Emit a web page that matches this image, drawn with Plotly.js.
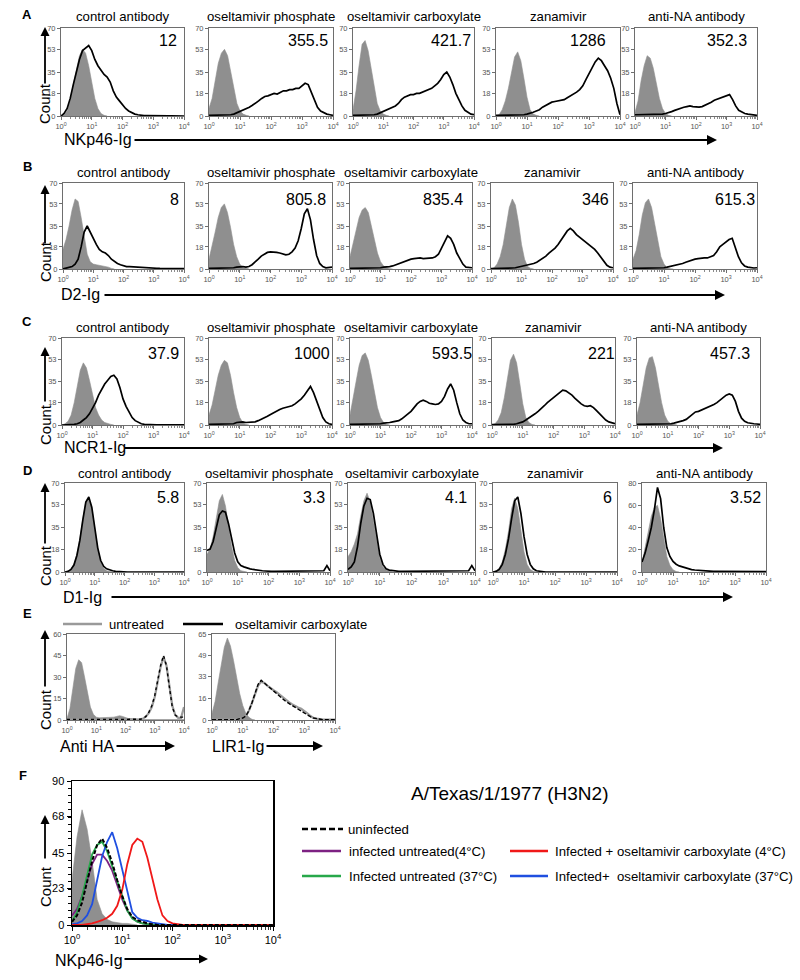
<!DOCTYPE html>
<html><head><meta charset="utf-8">
<script src="https://cdn.plot.ly/plotly-3.0.1.min.js"></script>
<style>html,body{margin:0;padding:0;background:#fff;}#chart{width:800px;height:980px;}</style>
</head><body><div id="chart"></div>
<script>
// ---------- DATA ----------
// histogram bin centres, as log10 of fluorescence
const binExp = [0,0.1,0.2,0.3,0.4,0.5,0.6,0.7,0.8,0.9,1.0,1.1,1.2,1.3,1.4,1.5,1.6,1.7,1.8,1.9,2.0,2.1,2.2,2.3,2.4,2.5,2.6,2.7,2.8,2.9,3.0,3.1,3.2,3.3,3.4,3.5,3.6,3.7,3.8,3.9,4.0];
const decadeVals = [1,10,100,1000,10000];
const decadeText = ['10<sup>0</sup>','10<sup>1</sup>','10<sup>2</sup>','10<sup>3</sup>','10<sup>4</sup>'];
const treatments = ['control antibody','oseltamivir phosphate','oseltamivir carboxylate','zanamivir','anti-NA antibody'];
const rowLetters = ['A','B','C','D'];
const rowReagents = ['NKp46-Ig','D2-Ig','NCR1-Ig','D1-Ig'];
const mfiA = ['12','355.5','421.7','1286','352.3'];
const mfiB = ['8','805.8','835.4','346','615.3'];
const mfiC = ['37.9','1000','593.5','221','457.3'];
const mfiD = ['5.8','3.3','4.1','6','3.52'];
const yTicks70 = [0,18,35,53,70];
const yTicks80 = [0,20,40,60,80];
const yTicksE1 = [0,15,30,45,60];
const yTicksE2 = [0,16,33,49,65];
const yTicksF = [0,23,45,68,90];

// Row A (NKp46-Ig): iso = grey filled control, stain = black line
const A1_iso = [0,1,4,12,25,38,48,53,50,40,27,14,6,2,0.5,0];
const A1_stain = [0,2,6,14,25,36,45,52,54,56,52,45,40,36,33,31,27,20,15,12,9,6,4,2.5,1.5,1,0.5,0.3,0.3,0.2,0.2,0.2,0.2,0.1,0.1,0.1,0.1,0.1,0.1,0.1,0];
const A2_iso = [6,14,28,42,50,53,48,36,22,10,4,1.5,0.5,0];
const A2_stain = [0.5,0.5,0.5,0.5,0.5,0.5,0.5,1,1.5,2.5,3.5,4.5,5.5,7,8.5,10,12,14,15.5,16,17,18,17.5,19,20,20,21,21,22,22,24,26,25,19,12,7,4,2.5,1.5,1,0.5];
const A3_iso = [5,20,40,57,60,52,38,22,10,4,1.5,0.5,0];
const A3_stain = [0.5,0.5,0.5,0.5,0.5,0.5,0.5,1,1.5,2.5,3.5,4.5,5.5,6.5,8,10,13,15,16,17,17,18,18,19,20,21,22,24,26,29,33,35,31,25,18,13,8,4.5,3,1.5,1];
const A4_iso = [0,1,5,12,22,35,47,51,44,30,15,5,1.5,0.5,0];
const A4_stain = [0.5,0.5,0.5,0.5,0.5,0.5,0.5,0.5,0.5,1,1.5,2,3,4,5,7,8.5,10,11,11.5,12,12.5,13,14.5,16,17,19,21,24,29,34,39,43,46,44,40,36,30,22,10,1];
const A5_iso = [3,12,28,40,48,46,38,26,14,6,2,0.5,0];
const A5_stain = [1,1,1,1,1,1,1,1,1,1.5,2,2.5,3.5,4.5,5.5,6.5,7,7.5,8,7.5,7,7,7.5,8.5,10,11,12.5,13.5,14.5,15.5,16.5,17,13,8,4.5,3,2,1.5,1,1,0.5];

// Row B (D2-Ig)
const B1_iso = [16,24,35,48,57,55,42,25,12,6,4,3.5,3,3,2.5,1.5,0.5,0];
const B1_stain = [0,0.5,1,2,4,8,18,30,35,30,24,20,16,14,13,11,8,6,4.5,3.5,2.5,2,2,1.8,1.5,1.5,1.5,1.2,1,1,0.8,0.6,0.5,0.5,0.3,0.3,0.3,0.3,0.3,0.3,0.3];
const B2_iso = [8,18,30,42,50,53,46,34,20,10,4,1.5,0.5,0];
const B2_stain = [0.5,0.5,0.5,0.5,0.5,0.5,0.5,1,1,1.5,2,2,1.5,2,3.5,5.5,8,10.5,12,13.5,14,14,13.5,13,12,11.5,12,14,17,23,33,45,49,40,24,11,4.5,2,1,1,1.5];
const B3_iso = [10,20,32,42,48,50,46,36,24,13,6,2.5,1,0.3,0];
const B3_stain = [0.5,0.5,0.5,0.5,0.5,0.5,0.5,0.5,0.5,1,1,1.5,1.5,2,2.5,3.5,4,5,6.5,7.5,8,8.5,9,9,8.5,8.5,8.5,9,10,12,17,22,27,25,20,13,8,4,1.5,1,1];
const B4_iso = [0,1,4,10,20,35,50,57,52,38,20,8,2,0.5,0];
const B4_stain = [0.3,0.3,0.3,0.3,0.3,0.3,0.3,0.8,1,1.5,2,2.5,3,3.5,4.5,5.5,7,8.5,10.5,13,15,17,20,24,27,31,33,31,28,26,24,22,20,18,16,13,9.5,6,3,1.5,1];
const B5_iso = [8,15,28,44,54,57,50,36,22,10,4,1,0.3,0];
const B5_stain = [0.5,0.5,0.5,0.5,0.5,0.5,0.5,0.5,0.5,0.8,1,1.5,2,2.5,3,3.5,4.5,5.5,6.5,7.5,8,8.5,9,9,9,10,11,14,18,20,22,24,25,18,10,5,2.5,1.5,1,0.8,1];

// Row C (NCR1-Ig)
const C1_iso = [0,1,3,8,18,32,44,50,46,36,24,14,8,4,2,1,0.5,0];
const C1_stain = [0,0,0,0,0.5,1,2,4,6,9,13,18,24,29,33,36,39,40,37,30,21,15,10,6,3.5,2,1,0.5,0.3,0.2,0.2,0.2,0.2,0.2,0.2,0.2,0.2,0.2,0.2,0.2,0.2];
const C2_iso = [8,16,28,40,48,52,50,40,26,14,6,2,0.5,0];
const C2_stain = [0.5,0.5,0.5,0.5,0.5,0.5,0.5,0.5,1,2,2.5,2.5,2,2,2,2.5,3.5,4.5,6,7,8.5,10,11,12.5,13.5,14,14.5,15.5,17,19,21,24,28,31,26,19,12,6,2.5,1,0.5];
const C3_iso = [8,20,35,48,56,58,52,40,26,14,6,2,0.5,0];
const C3_stain = [0.5,0.5,0.5,0.5,0.5,0.5,0.5,0.5,0.5,1,1,1.5,1.5,2,2.5,3,3.5,5,7,9,11,14,17,19,20,19,17.5,17,16.5,17,19,23,29,33,28,18,9,4,2,1,1];
const C4_iso = [0,1,4,10,22,38,52,57,50,34,17,6,2,0.5,0];
const C4_stain = [0.3,0.3,0.3,0.3,0.3,0.3,0.3,0.5,1,1.5,2.5,4,5.5,7,9,11,13,15.5,18,20,22,24,26,28,27.5,26,24,21.5,19,17,15.5,15,15.5,14,11.5,9,6.5,4,2.5,1.5,1];
const C5_iso = [8,18,32,46,54,55,46,32,18,8,3,1,0.3,0];
const C5_stain = [0.5,0.5,0.5,0.5,0.5,0.5,0.5,0.5,0.5,0.5,1,1,1.5,2,2.5,3.5,4.5,6.5,9,10.5,11,12,13.5,14.5,15.5,16.5,18,20,22,24,25,24,19,11,5.5,3,1.8,1.2,1,0.8,0.5];

// Row D (D1-Ig)
const D1_iso = [0,0.5,2,6,14,26,42,55,58,50,34,18,8,3,1,0.3,0];
const D1_stain = [0,0.5,2,5.5,13,25,41,55,59,51,35,19,9,4.5,2.5,1.5,1,0.5,0.3,0,0,0,0,0,0,0,0,0,0,0,0,0,0,0,0,0,0,0,0,0,0];
const D2_iso = [14,18,28,42,56,61,52,36,20,9,3.5,1,0.3,0];
const D2_stain = [17,18,24,35,45,48,47,38,26,15,8,5,4,3,2.5,2,1.5,1,1,0.8,0.5,0.5,0.5,0.5,0.5,0.5,0.5,0.5,0.5,0.5,0.5,0.5,0.5,0.5,0.5,0.5,0.5,0.5,1,5,1];
const D3_iso = [12,16,22,30,44,56,62,55,40,24,11,4,1.5,0.5,0];
const D3_stain = [2,4,8,20,38,52,58,57,46,28,14,6,2.5,1.5,1,0.5,0.5,0.5,0.5,0.5,0.5,0.5,0.5,0.5,0.5,0.5,0.5,0.5,0.5,0.5,0.5,0.5,0.5,0.5,0.5,0.5,0.5,0.5,1,5,1];
const D4_iso = [0,1,3,8,18,32,50,58,50,32,16,6,2,0.5,0];
const D4_stain = [0,0.5,2,6,14,26,42,56,59,46,28,14,6,2.5,1,0.5,0,0,0,0,0,0,0,0,0,0,0,0,0,0,0,0,0,0,0,0,0,0,0,0,0];
const D5_iso = [8,22,38,50,58,60,48,30,14,6,2,0.5,0];
const D5_stain = [9,17,28,40,56,76,66,40,22,14,9.5,7,5.5,4.5,3.5,2.8,2.2,1.8,1.5,1.2,1,0.8,0.5,0.5,0.5,0.5,0.5,0.5,0.5,0.5,0.3,0.3,0.3,0.3,0.3,0.3,0.3,0.3,0.3,0.3,0.3];

// Row E
const E1_iso = [1,8,22,36,42,40,30,18,9,4,2,1.5,1.5,1.5,1.5,1.5,2,2.5,3,2.5,1.5,1,1,1,0.8,0.5,0.3,0.3,0.3,0.3,0.3,0.3,0.3,0.3,0.3,0.3,0.3,0.3,0.3,0.3,0.3];
const E1_untreated = [0.3,0.3,0.3,0.3,0.3,0.3,0.3,0.3,0.3,0.3,0.3,0.3,0.3,0.3,0.3,0.3,0.3,0.3,0.3,0.3,0.3,0.3,0.3,0.3,0.3,0.5,1,2.5,5,9,16,26,37,44,38,24,10,3.5,1.5,1.5,9];
const E1_oselt = [0.3,0.3,0.3,0.3,0.3,0.3,0.3,0.3,0.3,0.3,0.3,0.3,0.3,0.3,0.3,0.3,0.3,0.3,0.3,0.3,0.3,0.3,0.3,0.3,0.3,0.5,1,2.5,5.5,10,17,27,38,45,38,23,9,3.5,2,2,2];
const E2_iso = [5,14,28,42,55,62,56,45,32,20,11,5,2,0.5,0];
const E2_untreated = [0.3,0.3,0.3,0.3,0.3,0.3,0.3,0.3,0.5,1,1.5,3,7,13,20,26,29,28,26,24,22.5,21,19,17,15,13.5,12,10.5,9.5,8.5,7,5,3,1.5,1,0.5,0.3,0.3,0.3,0.3,0.3];
const E2_oselt = [0.3,0.3,0.3,0.3,0.3,0.3,0.3,0.3,0.3,1,1.5,3,7,13,21,27,30,28,25.5,23.5,22,20,18,16,14,12.5,11,10,8.5,7,5.5,4,2.5,1.5,1,0.5,0.3,0.3,0.3,0.3,0.3];
const E_legend = ['untreated','oseltamivir carboxylate'];

// Row F (A/Texas/1/1977 H3N2, NKp46-Ig)
const F_iso = [28,55,72,60,40,16,7,3.5,2,1.5,1,1,0.5,0];
const F_uninfected = [2,6,14,27,40,50,54,48,39,28,18,10,5,3,2,1,0.5,0,0,0,0,0,0,0,0,0,0,0,0,0,0,0,0,0,0,0,0,0,0,0,0];
const F_inf4 = [6,10,18,28,38,44,44,40,34,25,16,9,4.5,2,1,0.5,0,0,0,0,0,0,0,0,0,0,0,0,0,0,0,0,0,0,0,0,0,0,0,0,0];
const F_inf37 = [2,8,18,32,44,50,52,46,37,28,18,9,4,2,1,0.5,0,0,0,0,0,0,0,0,0,0,0,0,0,0,0,0,0,0,0,0,0,0,0,0,0];
const F_osel4 = [0,0,0,0.5,1,2,3,4.5,7,12,22,38,50,54,52,42,28,16,6,2.5,1,0.5,0,0,0,0,0,0,0,0,0,0,0,0,0,0,0,0,0,0,0];
const F_osel37 = [0.5,1,2.5,6,13,28,43,52,58,48,34,20,8,4.5,3,2.5,1.5,1,0.5,0,0,0,0,0,0,0,0,0,0,0,0,0,0,0,0,0,0,0,0,0,0];
const F_title = 'A/Texas/1/1977 (H3N2)';
const F_names = ['uninfected','infected untreated(4°C)','Infected untreated (37°C)','Infected + oseltamivir carboxylate (4°C)','Infected+  oseltamivir carboxylate (37°C)'];

// ---------- BUILD ----------
const W = 800, H = 980;
const px = v => v / W;
const py = v => 1 - v / H;
const FONT = 'Liberation Sans, Arial, Helvetica, sans-serif';
const GRAY = '#8f8f8f';
const COL = {black:'#000000', purple:'#7d2182', green:'#27a84a', blue:'#1f4fe0', red:'#f01818'};
const xVals = binExp.map(e => Math.pow(10, e));
const minorVals = [];
for (let d = 1; d < 10000; d *= 10) for (let k = 2; k <= 9; k++) minorVals.push(d * k);

const traces = [];
const layout = {
  width: W, height: H, margin: {l:0, r:0, t:0, b:0},
  paper_bgcolor: '#fff', plot_bgcolor: '#fff', showlegend: false,
  font: {family: FONT, color: '#000'},
  annotations: [], shapes: []
};
let nAx = 0;

function panel(xr, top, bottom, yRange, yTicks, series, big) {
  nAx++;
  const s = nAx === 1 ? '' : String(nAx);
  const lc = big ? '#000' : '#6e6e6e';
  const tc = big ? '#000' : '#555';
  layout['xaxis' + s] = {
    type: 'log', range: [0, 4], domain: [px(xr[0]), px(xr[1])], anchor: 'y' + s,
    tickmode: 'array', tickvals: decadeVals, ticktext: decadeText,
    ticks: 'outside', ticklen: big ? 4 : 3, tickwidth: 1, tickcolor: lc,
    minor: {tickmode: 'array', tickvals: minorVals, ticks: 'outside', ticklen: big ? 3 : 2, tickwidth: 0.8, tickcolor: lc, showgrid: false},
    showline: true, mirror: true, linecolor: lc, linewidth: big ? 1.5 : 1,
    showgrid: false, zeroline: false, fixedrange: true,
    tickfont: {size: big ? 11 : 7.5, color: tc, family: FONT}
  };
  layout['yaxis' + s] = {
    range: yRange, domain: [py(bottom), py(top)], anchor: 'x' + s,
    tickmode: 'array', tickvals: yTicks,
    ticks: 'outside', ticklen: big ? 4 : 3, tickwidth: 1, tickcolor: lc,
    showline: true, mirror: true, linecolor: lc, linewidth: big ? 1.5 : 1,
    showgrid: false, zeroline: false, fixedrange: true,
    tickfont: {size: big ? 11 : 7.5, color: tc, family: FONT}
  };
  if (big) layout['yaxis' + s].minor = {tickmode: 'linear', tick0: 0, dtick: 4.5, ticks: 'outside', ticklen: 2.5, tickcolor: lc, showgrid: false};
  series.forEach(sr => {
    const t = {
      type: 'scatter', mode: 'lines', x: xVals.slice(0, sr.y.length), y: sr.y,
      xaxis: 'x' + s, yaxis: 'y' + s, hoverinfo: 'skip', cliponaxis: true
    };
    if (sr.fill) {
      t.fill = 'tozeroy'; t.fillcolor = GRAY; t.line = {color: GRAY, width: 0.6};
    } else {
      t.line = {color: sr.color, width: sr.width || 1.7, dash: sr.dash || 'solid'};
    }
    traces.push(t);
  });
}

function text(str, x, y, size, opts) {
  layout.annotations.push(Object.assign({
    text: str, x: px(x), y: py(y), xref: 'paper', yref: 'paper', showarrow: false,
    xanchor: 'center', yanchor: 'middle', font: {size: size, color: '#000', family: FONT}
  }, opts || {}));
}
function arrow(x0, y0, x1, y1, w) {
  layout.annotations.push({
    text: '', x: px(x1), y: py(y1), xref: 'paper', yref: 'paper', showarrow: true,
    ax: x0 - x1, ay: y0 - y1, axref: 'pixel', ayref: 'pixel',
    arrowhead: 2, arrowsize: 1, arrowwidth: w || 1.8, arrowcolor: '#000', standoff: 0, startstandoff: 0
  });
}
function hline(x0, x1, y, color, width, dash) {
  layout.shapes.push({type: 'line', xref: 'paper', yref: 'paper', x0: px(x0), x1: px(x1), y0: py(y), y1: py(y),
    line: {color: color, width: width, dash: dash || 'solid'}});
}

// Rows A-D
const rows = [
  {top: 28, bottom: 116, xs: [[61,184],[209,333],[353,474],[496,620],[635,757]], titleY: 17, mfiY: 40,
   mfiX: [168,308,451,588,727], mfi: mfiA, letterY: 15, data: [[A1_iso,A1_stain],[A2_iso,A2_stain],[A3_iso,A3_stain],[A4_iso,A4_stain],[A5_iso,A5_stain]],
   lab: {x: 62, y: 140, a0: 133, a1: 717}, count: {head: 27, tail: 85, c: 104}},
  {top: 183, bottom: 269, xs: [[63,184],[209,332],[350,472],[491,613],[633,757]], titleY: 172, mfiY: 199,
   mfiX: [174,306,443,595,735], mfi: mfiB, letterY: 167, data: [[B1_iso,B1_stain],[B2_iso,B2_stain],[B3_iso,B3_stain],[B4_iso,B4_stain],[B5_iso,B5_stain]],
   lab: {x: 59, y: 295, a0: 103, a1: 725}, count: {head: 185, tail: 245, c: 262}},
  {top: 338, bottom: 425, xs: [[62,184],[209,332],[350,472],[492,615],[637,760]], titleY: 327, mfiY: 353,
   mfiX: [163,312,452,601,730], mfi: mfiC, letterY: 322, data: [[C1_iso,C1_stain],[C2_iso,C2_stain],[C3_iso,C3_stain],[C4_iso,C4_stain],[C5_iso,C5_stain]],
   lab: {x: 62, y: 448, a0: 123, a1: 723}, count: {head: 347, tail: 403, c: 425}},
  {top: 483, bottom: 572, xs: [[65,184],[207,330],[348,475],[493,617],[642,766]], titleY: 473, mfiY: 497,
   mfiX: [168,314,456,607,745], mfi: mfiD, letterY: 470, data: [[D1_iso,D1_stain],[D2_iso,D2_stain],[D3_iso,D3_stain],[D4_iso,D4_stain],[D5_iso,D5_stain]],
   lab: {x: 61, y: 597, a0: 110, a1: 733}, count: {head: 483, tail: 545, c: 566}}
];

rows.forEach((r, ri) => {
  r.xs.forEach((xr, i) => {
    const isD5 = (ri === 3 && i === 4);
    panel(xr, r.top, r.bottom, isD5 ? [0, 80] : [0, 70], isD5 ? yTicks80 : yTicks70,
      [{y: r.data[i][0], fill: true}, {y: r.data[i][1], color: COL.black}], false);
    text(treatments[i], (xr[0] + xr[1]) / 2, r.titleY, 13.2);
    text(r.mfi[i], r.mfiX[i], r.mfiY, 16);
  });
  text(rowLetters[ri], 27, r.letterY, 13, {font: {size: 13, color: '#000', family: FONT, weight: 'bold'}});
  text(rowReagents[ri], r.lab.x, r.lab.y, 16, {xanchor: 'left'});
  arrow(r.lab.a0, r.lab.y, r.lab.a1, r.lab.y, 2);
  arrow(45, r.count.tail, 45, r.count.head, 1.8);
  text('Count', 45, r.count.c, 15, {textangle: -90});
});

// Row E
text('E', 27, 613, 13, {font: {size: 13, color: '#000', family: FONT, weight: 'bold'}});
hline(63, 102, 624, '#9a9a9a', 2.5);
text(E_legend[0], 107, 624, 13, {xanchor: 'left'});
hline(183, 223, 624, '#000', 2.5);
text(E_legend[1], 233, 624, 13, {xanchor: 'left'});
panel([67,184], 634, 720, [0, 60], yTicksE1,
  [{y: E1_iso, fill: true}, {y: E1_untreated, color: '#9a9a9a', width: 2.2}, {y: E1_oselt, color: '#000', width: 1.4, dash: '3px,3px'}], false);
panel([212,335], 634, 720, [0, 65], yTicksE2,
  [{y: E2_iso, fill: true}, {y: E2_untreated, color: '#9a9a9a', width: 2.2}, {y: E2_oselt, color: '#000', width: 1.4, dash: '4px,2px'}], false);
text('Anti HA', 58, 746, 16, {xanchor: 'left'});
arrow(115, 746, 175, 746, 2);
text('LIR1-Ig', 210, 746, 16, {xanchor: 'left'});
arrow(265, 746, 323, 746, 2);
arrow(45, 688, 45, 630, 1.8);
text('Count', 45, 710, 15, {textangle: -90});

// Row F
text('F', 23, 775, 13, {font: {size: 13, color: '#000', family: FONT, weight: 'bold'}});
panel([72,273], 781, 925, [0, 90], yTicksF,
  [{y: F_iso, fill: true},
   {y: F_inf4, color: COL.purple, width: 1.8},
   {y: F_inf37, color: COL.green, width: 1.8},
   {y: F_osel37, color: COL.blue, width: 1.8},
   {y: F_osel4, color: COL.red, width: 1.8},
   {y: F_uninfected, color: COL.black, width: 2, dash: '4px,2px'}], true);
text('NKp46-Ig', 53, 960, 16, {xanchor: 'left'});
arrow(123, 959, 208, 959, 1.8);
arrow(45, 860, 45, 815, 1.8);
text('Count', 45, 887, 15, {textangle: -90});

// F legend
text(F_title, 510, 793, 19);
hline(302, 343, 829, COL.black, 2.5, '6px,3px');
text(F_names[0], 346, 829, 13.2, {xanchor: 'left'});
hline(302, 341, 851, COL.purple, 2.5);
text(F_names[1], 347, 851, 13.2, {xanchor: 'left'});
hline(302, 341, 876, COL.green, 2.5);
text(F_names[2], 347, 876, 13.2, {xanchor: 'left'});
hline(510, 548, 851, COL.red, 2.5);
text(F_names[3], 553, 851, 13.2, {xanchor: 'left'});
hline(510, 548, 876, COL.blue, 2.5);
text(F_names[4], 553, 876, 13.2, {xanchor: 'left'});

Plotly.newPlot('chart', traces, layout, {staticPlot: true, displayModeBar: false});
</script>
</body></html>
